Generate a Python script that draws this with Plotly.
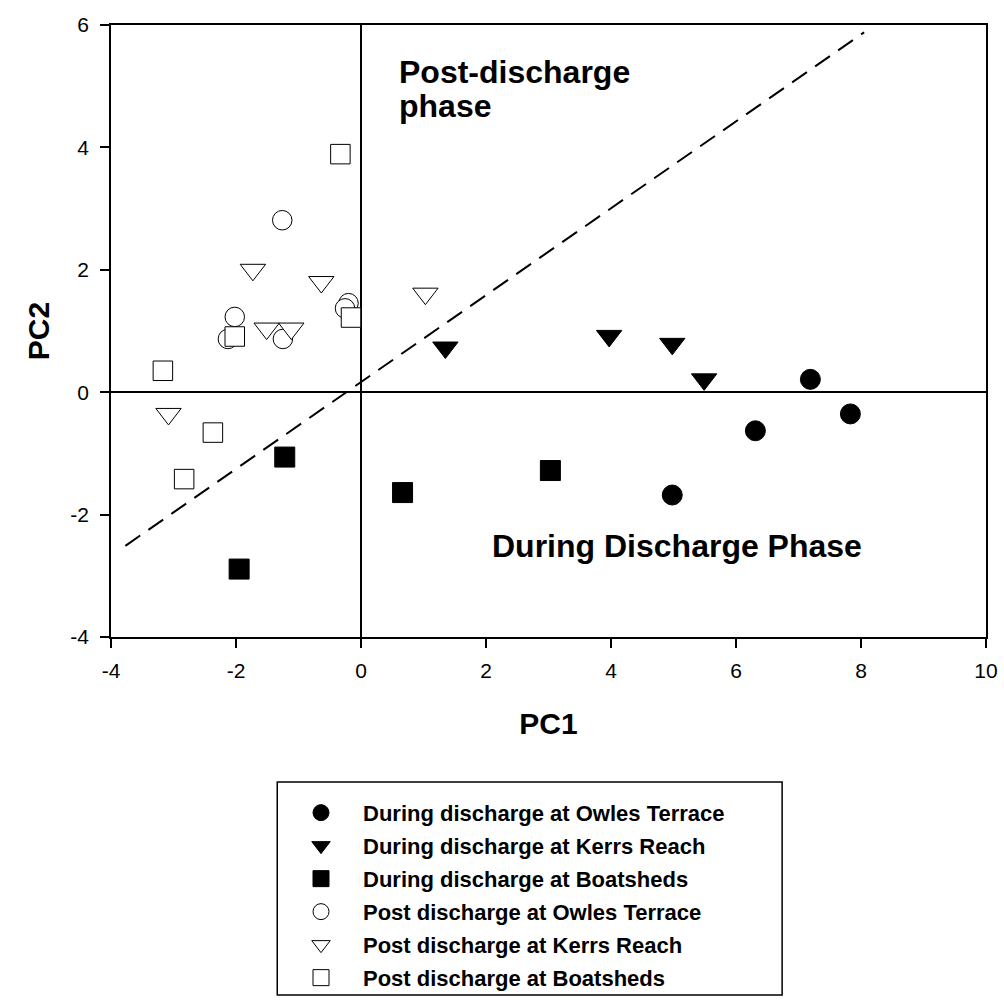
import plotly.graph_objects as go

# PCA scores (PC1, PC2) grouped by discharge phase and sampling site
owles_during_pc1 = [4.98, 6.31, 7.19, 7.83]
owles_during_pc2 = [-1.68, -0.63, 0.21, -0.355]
kerrs_during_pc1 = [1.35, 3.97, 4.98, 5.49]
kerrs_during_pc2 = [0.73, 0.92, 0.79, 0.21]
boat_during_pc1 = [-1.95, -1.22, 0.665, 3.03]
boat_during_pc2 = [-2.89, -1.06, -1.64, -1.28]

owles_post_pc1 = [-1.26, -0.20, -0.256, -2.02, -2.13, -1.25]
owles_post_pc2 = [2.81, 1.455, 1.37, 1.23, 0.87, 0.87]
kerrs_post_pc1 = [-1.73, -0.635, -1.51, -1.115, 1.03, -3.08]
kerrs_post_pc2 = [2.00, 1.80, 1.04, 1.04, 1.61, -0.355]
boat_post_pc1 = [-0.33, -0.16, -2.02, -3.17, -2.37, -2.83]
boat_post_pc2 = [3.89, 1.22, 0.91, 0.35, -0.66, -1.42]

# dividing line between the two phases
boundary_pc1 = [-3.77, 8.05]
boundary_pc2 = [-2.51, 5.88]

# axis ticks (plain hyphen for negatives)
pc1_ticks = [-4, -2, 0, 2, 4, 6, 8, 10]
pc1_ticklabels = ["-4", "-2", "0", "2", "4", "6", "8", "10"]
pc2_ticks = [-4, -2, 0, 2, 4, 6]
pc2_ticklabels = ["-4", "-2", "0", "2", "4", "6"]

series_names = [
    "During discharge at Owles Terrace",
    "During discharge at Kerrs Reach",
    "During discharge at Boatsheds",
    "Post discharge at Owles Terrace",
    "Post discharge at Kerrs Reach",
    "Post discharge at Boatsheds",
]

FONT = "Arial, Liberation Sans, sans-serif"

series = [
    (owles_during_pc1, owles_during_pc2, "circle", "black", 20),
    (kerrs_during_pc1, kerrs_during_pc2, "triangle-down", "black", 22),
    (boat_during_pc1, boat_during_pc2, "square", "black", 20),
    (owles_post_pc1, owles_post_pc2, "circle", "white", 19.5),
    (kerrs_post_pc1, kerrs_post_pc2, "triangle-down", "white", 22),
    (boat_post_pc1, boat_post_pc2, "square", "white", 19.5),
]

fig = go.Figure()

fig.add_trace(go.Scatter(
    x=boundary_pc1, y=boundary_pc2, mode="lines",
    line=dict(color="black", width=2, dash="18px,10px"),
    showlegend=False, hoverinfo="skip",
))

for name, (xs, ys, sym, fill, size) in zip(series_names, series):
    fig.add_trace(go.Scatter(
        x=xs, y=ys, mode="markers", name=name, legendgroup=name,
        marker=dict(symbol=sym, size=size, color=fill,
                    line=dict(color="black", width=1)),
    ))

axis_common = dict(
    showgrid=False, zeroline=True, zerolinecolor="black", zerolinewidth=1.5,
    showline=True, linecolor="black", linewidth=1.5, mirror=True,
    ticks="outside", ticklen=9, tickwidth=1.5, tickcolor="black",
    tickfont=dict(family=FONT, size=21, color="black"),
)

fig.update_layout(
    width=1004, height=1008,
    margin=dict(l=111, r=18, t=25, b=371, autoexpand=False),
    paper_bgcolor="white", plot_bgcolor="white",
    font=dict(family=FONT, color="black"),
    xaxis=dict(range=[-4, 10], **axis_common,
               tickmode="array", tickvals=pc1_ticks, ticktext=pc1_ticklabels,
               ticklabelstandoff=5,
               title=dict(text="PC1", standoff=32,
                          font=dict(family=FONT, size=30, weight="bold", color="black"))),
    yaxis=dict(range=[-4, 6], **axis_common,
               tickmode="array", tickvals=pc2_ticks, ticktext=pc2_ticklabels,
               ticklabelstandoff=7,
               title=dict(text="PC2", standoff=12,
                          font=dict(family=FONT, size=30, weight="bold", color="black"))),
    legend=dict(
        x=0.192, y=-0.253, xanchor="left", yanchor="top",
        font=dict(family=FONT, size=22, weight="bold", color="black"),
        itemwidth=74, tracegroupgap=1.4, traceorder="grouped",
        bgcolor="rgba(0,0,0,0)", borderwidth=0,
    ),
    shapes=[dict(type="rect", xref="paper", yref="paper",
                 x0=0.19, x1=0.767, y0=-0.237, y1=-0.585,
                 line=dict(color="black", width=1.5))],
    annotations=[
        dict(x=0.576, y=5.23, xref="x", yref="y", text="Post-discharge",
             showarrow=False, xanchor="left", yanchor="middle",
             font=dict(family=FONT, size=32, weight="bold", color="black")),
        dict(x=0.576, y=4.67, xref="x", yref="y", text="phase",
             showarrow=False, xanchor="left", yanchor="middle",
             font=dict(family=FONT, size=32, weight="bold", color="black")),
        dict(x=2.057, y=-2.51, xref="x", yref="y", text="During Discharge Phase",
             showarrow=False, xanchor="left", yanchor="middle",
             font=dict(family=FONT, size=32, weight="bold", color="black")),
    ],
)

fig.write_html("out.html")
